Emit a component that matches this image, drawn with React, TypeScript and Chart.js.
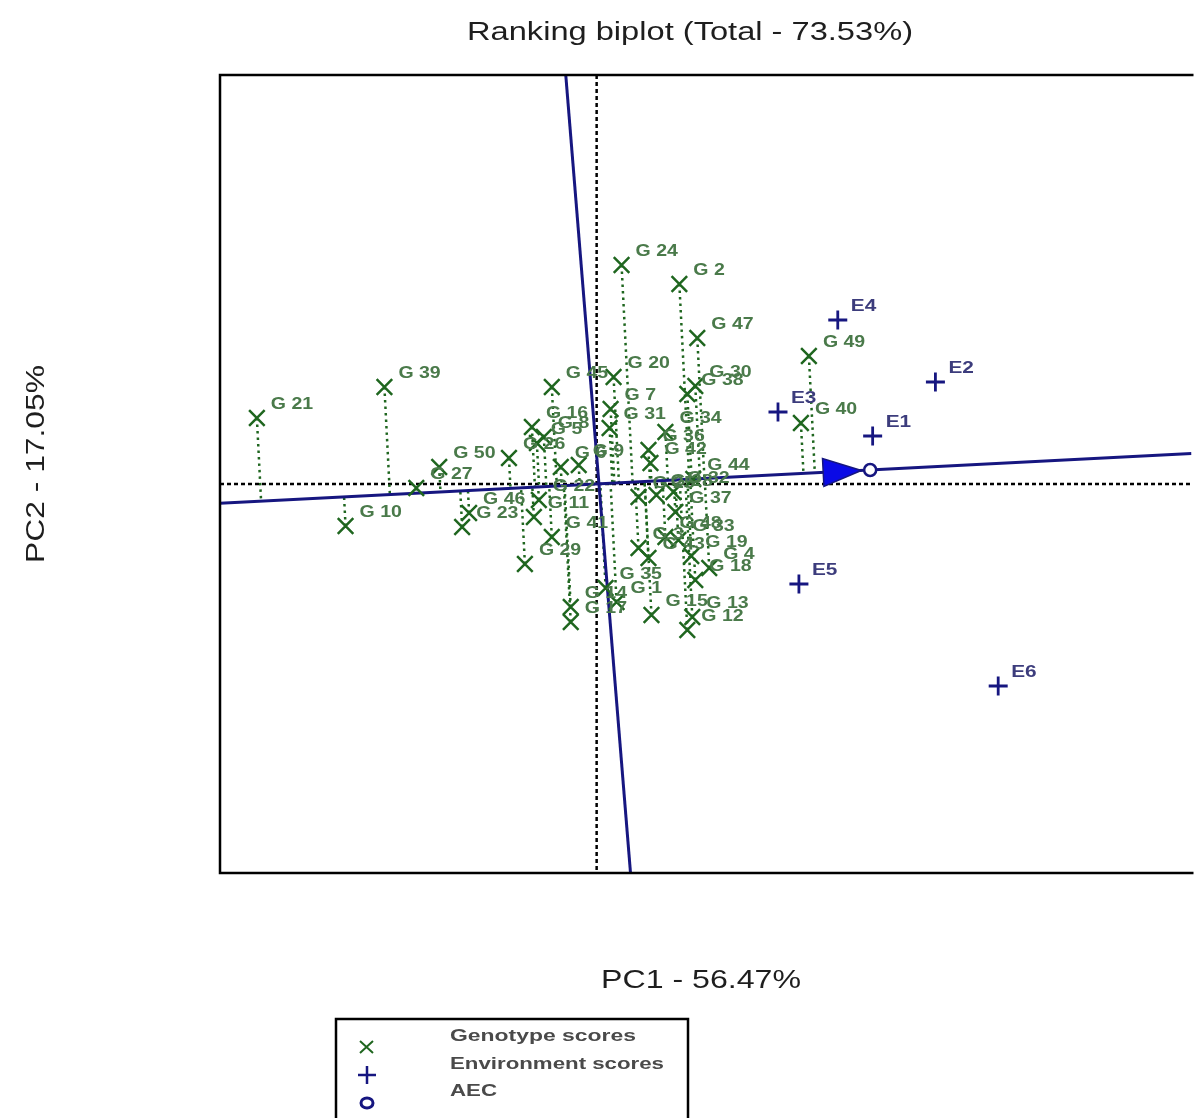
import React, { useEffect, useRef } from "react";
import { Chart, registerables } from "chart.js";
Chart.register(...registerables);

// ---------- data ----------
const genotypeLabels = [
  "G 1", "G 2", "G 3", "G 4", "G 5", "G 6", "G 7", "G 8", "G 9", "G 10",
  "G 11", "G 12", "G 13", "G 14", "G 15", "G 16", "G 17", "G 18", "G 19", "G 20",
  "G 21", "G 22", "G 23", "G 24", "G 25", "G 26", "G 27", "G 28", "G 29", "G 30",
  "G 31", "G 32", "G 33", "G 34", "G 35", "G 36", "G 37", "G 38", "G 39", "G 40",
  "G 41", "G 42", "G 43", "G 44", "G 45", "G 46", "G 47", "G 48", "G 49", "G 50",
];
const genotypePC1 = [
  0.2, 0.83, 0.42, 1.13, -0.6, -0.36, 0.14, -0.53, -0.18, -2.52,
  -0.63, 0.91, 0.96, -0.26, 0.55, -0.65, -0.26, 0.99, 0.95, 0.17,
  -3.41, -0.58, -1.35, 0.25, 0.42, -0.88, -1.81, 0.6, -0.72, 0.99,
  0.13, 0.77, 0.82, 0.69, 0.09, 0.52, 0.79, 0.91, -2.13, 2.05,
  -0.45, 0.54, 0.52, 0.97, -0.45, -1.28, 1.01, 0.69, 2.13, -1.58,
];
const genotypePC2 = [
  -1.18, 2.0, -0.64, -0.84, 0.41, 0.17, 0.75, 0.47, 0.19, -0.42,
  -0.33, -1.46, -1.33, -1.23, -1.31, 0.57, -1.38, -0.96, -0.72, 1.07,
  0.66, -0.16, -0.43, 2.19, -0.13, 0.26, -0.04, -0.11, -0.8, 0.98,
  0.56, -0.08, -0.56, 0.52, -1.04, 0.34, -0.28, 0.9, 0.97, 0.61,
  -0.53, 0.21, -0.74, 0.05, 0.97, -0.29, 1.46, -0.53, 1.28, 0.17,
];
const environmentLabels = ["E1", "E2", "E3", "E4", "E5", "E6"];
const environmentPC1 = [2.77, 3.4, 1.82, 2.42, 2.03, 4.03];
const environmentPC2 = [0.48, 1.02, 0.72, 1.64, -1.0, -2.02];
// AEC ordinate as drawn (top end, bottom end)
const aecOrdinatePC1 = [-0.31, 0.34];
const aecOrdinatePC2 = [4.09, -3.89];
const pc1Range = [-3.78, 5.97];
const pc2Range = [-3.89, 4.09];

const titleText = "Ranking biplot (Total - 73.53%)";
const xTitleText = "PC1 - 56.47%";
const yTitleText = "PC2 - 17.05%";
const legendTexts = ["Genotype scores", "Environment scores", "AEC"];

// ---------- styles ----------
const GREEN = "#1f661f";
const GREEN_TEXT = "#4a7a4a";
const NAVY = "#161680";
const NAVY_TEXT = "#3c3c7c";
const ARROW_BLUE = "#0a0ae6";
const FONT = "'Liberation Sans', Arial, sans-serif";

const aecX = environmentPC1.reduce((a, b) => a + b, 0) / environmentPC1.length;
const aecY = environmentPC2.reduce((a, b) => a + b, 0) / environmentPC2.length;
const aecSlope = aecY / aecX;

function stretchText(
  ctx: CanvasRenderingContext2D,
  text: string,
  x: number,
  y: number,
  font: string,
  color: string,
  sx: number,
  align: CanvasTextAlign = "left",
  baseline: CanvasTextBaseline = "alphabetic"
) {
  ctx.save();
  ctx.font = font;
  ctx.fillStyle = color;
  ctx.textAlign = align;
  ctx.textBaseline = baseline;
  ctx.translate(x, y);
  ctx.scale(sx, 1);
  ctx.fillText(text, 0, 0);
  ctx.restore();
}

function fitText(
  ctx: CanvasRenderingContext2D,
  text: string,
  x: number,
  y: number,
  font: string,
  color: string,
  width: number,
  align: CanvasTextAlign = "left"
) {
  ctx.save();
  ctx.font = font;
  const w = ctx.measureText(text).width;
  ctx.restore();
  stretchText(ctx, text, x, y, font, color, width / w, align);
}

const decorPlugin = {
  id: "biplotDecor",
  beforeDatasetsDraw(chart: any) {
    const ctx: CanvasRenderingContext2D = chart.ctx;
    const xs = chart.scales.x;
    const ys = chart.scales.y;
    const area = chart.chartArea;
    const ox = xs.getPixelForValue(0);
    const oy = ys.getPixelForValue(0);
    ctx.save();
    // dashed origin lines
    ctx.strokeStyle = "#000";
    ctx.lineWidth = 2.5;
    ctx.setLineDash([4, 3]);
    ctx.beginPath();
    ctx.moveTo(area.left, oy);
    ctx.lineTo(area.right, oy);
    ctx.stroke();
    ctx.beginPath();
    ctx.moveTo(ox, area.top);
    ctx.lineTo(ox, area.bottom);
    ctx.stroke();
    // projection lines of genotypes on AEC abscissa
    ctx.strokeStyle = GREEN;
    ctx.lineWidth = 2.5;
    ctx.setLineDash([2.5, 4]);
    const m = aecSlope;
    for (let i = 0; i < genotypePC1.length; i++) {
      const gx = genotypePC1[i];
      const gy = genotypePC2[i];
      const t = (gx + m * gy) / (1 + m * m);
      ctx.beginPath();
      ctx.moveTo(xs.getPixelForValue(gx), ys.getPixelForValue(gy));
      ctx.lineTo(xs.getPixelForValue(t), ys.getPixelForValue(t * m));
      ctx.stroke();
    }
    ctx.restore();
  },
  afterDatasetsDraw(chart: any) {
    const ctx: CanvasRenderingContext2D = chart.ctx;
    const xs = chart.scales.x;
    const ys = chart.scales.y;
    // arrow on the AEC abscissa
    const ax = xs.getPixelForValue(aecX);
    const ay = ys.getPixelForValue(aecX * aecSlope);
    const ox = xs.getPixelForValue(0);
    const oy = ys.getPixelForValue(0);
    const len = Math.hypot(ax - ox, ay - oy);
    const dx = (ax - ox) / len;
    const dy = (ay - oy) / len;
    const tipX = ax - dx * 9;
    const tipY = ay - dy * 9;
    const baseX = tipX - dx * 38;
    const baseY = tipY - dy * 38;
    const hw = 14;
    ctx.save();
    ctx.fillStyle = ARROW_BLUE;
    ctx.strokeStyle = NAVY;
    ctx.lineWidth = 1.5;
    ctx.beginPath();
    ctx.moveTo(tipX, tipY);
    ctx.lineTo(baseX - dy * hw, baseY + dx * hw);
    ctx.lineTo(baseX + dy * hw, baseY - dx * hw);
    ctx.closePath();
    ctx.fill();
    ctx.stroke();
    ctx.restore();

    // labels
    const gFont = `bold 16px ${FONT}`;
    for (let i = 0; i < genotypeLabels.length; i++) {
      const px = xs.getPixelForValue(genotypePC1[i]);
      const py = ys.getPixelForValue(genotypePC2[i]);
      stretchText(ctx, genotypeLabels[i], px + 14, py - 13, gFont, GREEN_TEXT, 1.22, "left", "middle");
    }
    const eFont = `bold 16px ${FONT}`;
    for (let i = 0; i < environmentLabels.length; i++) {
      const px = xs.getPixelForValue(environmentPC1[i]);
      const py = ys.getPixelForValue(environmentPC2[i]);
      stretchText(ctx, environmentLabels[i], px + 13, py - 13, eFont, NAVY_TEXT, 1.3, "left", "middle");
    }
  },
  afterDraw(chart: any) {
    const ctx: CanvasRenderingContext2D = chart.ctx;
    const area = chart.chartArea;
    ctx.save();
    // frame (right side falls outside the picture)
    ctx.strokeStyle = "#000";
    ctx.lineWidth = 2.5;
    ctx.setLineDash([]);
    ctx.beginPath();
    ctx.moveTo(area.right + 2, area.top);
    ctx.lineTo(area.left, area.top);
    ctx.lineTo(area.left, area.bottom);
    ctx.lineTo(area.right + 2, area.bottom);
    ctx.stroke();
    ctx.restore();

    // titles
    fitText(ctx, titleText, 690, 40, `26px ${FONT}`, "#1e1e1e", 446, "center");
    fitText(ctx, xTitleText, 701, 988, `26px ${FONT}`, "#1e1e1e", 200, "center");
    ctx.save();
    ctx.translate(44, 464);
    ctx.rotate(-Math.PI / 2);
    fitText(ctx, yTitleText, 0, 0, `26px ${FONT}`, "#1e1e1e", 198, "center");
    ctx.restore();

    // legend
    ctx.save();
    ctx.strokeStyle = "#000";
    ctx.lineWidth = 2.5;
    ctx.strokeRect(336, 1019, 352, 120);
    // genotype marker
    ctx.strokeStyle = GREEN;
    ctx.lineWidth = 2;
    ctx.beginPath();
    ctx.moveTo(360, 1041);
    ctx.lineTo(373, 1053);
    ctx.moveTo(373, 1041);
    ctx.lineTo(360, 1053);
    ctx.stroke();
    // environment marker
    ctx.strokeStyle = NAVY;
    ctx.lineWidth = 2.5;
    ctx.beginPath();
    ctx.moveTo(358, 1075);
    ctx.lineTo(376, 1075);
    ctx.moveTo(367, 1066);
    ctx.lineTo(367, 1084);
    ctx.stroke();
    // AEC marker
    ctx.lineWidth = 3;
    ctx.beginPath();
    ctx.ellipse(367, 1103, 6, 5, 0, 0, Math.PI * 2);
    ctx.stroke();
    ctx.restore();
    const lFont = `bold 16px ${FONT}`;
    fitText(ctx, legendTexts[0], 450, 1041, lFont, "#4a4a4a", 186);
    fitText(ctx, legendTexts[1], 450, 1069, lFont, "#4a4a4a", 214);
    fitText(ctx, legendTexts[2], 450, 1096, lFont, "#4a4a4a", 47);
  },
};

export default function App() {
  const canvasRef = useRef<HTMLCanvasElement | null>(null);

  useEffect(() => {
    const canvas = canvasRef.current;
    if (!canvas) return;
    const genotypePoints = genotypePC1.map((x, i) => ({ x, y: genotypePC2[i] }));
    const envPoints = environmentPC1.map((x, i) => ({ x, y: environmentPC2[i] }));
    const abscissa = [
      { x: pc1Range[0], y: pc1Range[0] * aecSlope },
      { x: pc1Range[1], y: pc1Range[1] * aecSlope },
    ];
    const ordinate = aecOrdinatePC1.map((x, i) => ({ x, y: aecOrdinatePC2[i] }));

    const chart = new Chart(canvas, {
      type: "scatter",
      data: {
        datasets: [
          {
            label: "Genotype scores",
            data: genotypePoints,
            pointStyle: "crossRot",
            pointRadius: 11,
            pointBorderWidth: 2.5,
            borderColor: GREEN,
            backgroundColor: GREEN,
            order: 1,
          },
          {
            label: "Environment scores",
            data: envPoints,
            pointStyle: "cross",
            pointRadius: 9.5,
            pointBorderWidth: 2.8,
            borderColor: NAVY,
            backgroundColor: NAVY,
            order: 2,
          },
          {
            label: "AEC",
            data: [{ x: aecX, y: aecX * aecSlope }],
            pointStyle: "circle",
            pointRadius: 6,
            pointBorderWidth: 2.5,
            borderColor: NAVY,
            backgroundColor: "#ffffff",
            order: 0,
          },
          {
            label: "AEC abscissa",
            data: abscissa,
            showLine: true,
            pointRadius: 0,
            borderColor: NAVY,
            borderWidth: 3,
            order: 5,
          },
          {
            label: "AEC ordinate",
            data: ordinate,
            showLine: true,
            pointRadius: 0,
            borderColor: NAVY,
            borderWidth: 3,
            order: 5,
          },
        ],
      },
      options: {
        responsive: false,
        animation: false,
        devicePixelRatio: 1,
        layout: { padding: { left: 220, top: 75, right: 0, bottom: 245 } },
        scales: {
          x: { type: "linear", min: pc1Range[0], max: pc1Range[1], display: false },
          y: { type: "linear", min: pc2Range[0], max: pc2Range[1], display: false },
        },
        plugins: {
          legend: { display: false },
          tooltip: { enabled: false },
          title: { display: false },
        },
      },
      plugins: [decorPlugin],
    });
    return () => chart.destroy();
  }, []);

  return (
    <div
      style={{
        position: "absolute",
        left: 0,
        top: 0,
        width: 1195,
        height: 1118,
        overflow: "hidden",
        background: "#fff",
      }}
    >
      <canvas ref={canvasRef} width={1205} height={1118} style={{ display: "block" }} />
    </div>
  );
}
